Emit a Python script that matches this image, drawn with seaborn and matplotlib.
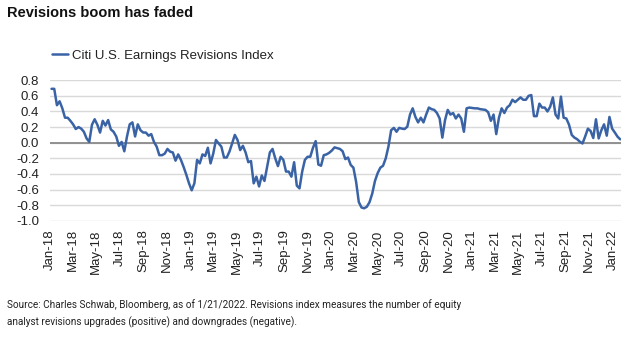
import matplotlib
matplotlib.use("Agg")
import matplotlib.pyplot as plt
from matplotlib.lines import Line2D
import seaborn as sns
import pandas as pd

# ---- data (weekly readings, Jan 2018 - Jan 21 2022) ----
start_date = "2018-01-05"
revisions = [
    0.69, 0.69, 0.48, 0.53, 0.44, 0.32, 0.32, 0.28, 0.235, 0.175,
    0.20, 0.18, 0.14, 0.055, 0.01, 0.23, 0.30, 0.23, 0.13, 0.28,
    0.22, 0.29, 0.17, 0.14, 0.08, -0.04, 0.01, -0.11, 0.08, 0.235,
    0.26, 0.08, 0.235, 0.16, 0.13, 0.13, 0.09, 0.11, 0.01, -0.05,
    -0.16, -0.16, -0.14, -0.08, -0.115, -0.125, -0.23, -0.15, -0.22, -0.31,
    -0.41, -0.52, -0.61, -0.52, -0.22, -0.265, -0.15, -0.17, -0.065, -0.265,
    -0.14, 0.035, -0.01, -0.05, -0.19, -0.19, -0.115, -0.01, 0.10, 0.035,
    -0.095, -0.04, -0.125, -0.25, -0.235, -0.52, -0.435, -0.56, -0.42, -0.49,
    -0.31, -0.125, -0.08, -0.20, -0.30, -0.18, -0.22, -0.37, -0.37, -0.435,
    -0.25, -0.55, -0.585, -0.37, -0.22, -0.18, -0.18, -0.065, 0.02, -0.28,
    -0.295, -0.16, -0.15, -0.13, -0.10, -0.06, -0.07, -0.08, -0.11, -0.21,
    -0.19, -0.285, -0.32, -0.50, -0.76, -0.83, -0.84, -0.82, -0.76, -0.65,
    -0.49, -0.39, -0.32, -0.295, -0.20, -0.05, 0.16, 0.19, 0.14, 0.19,
    0.18, 0.175, 0.205, 0.36, 0.44, 0.33, 0.26, 0.32, 0.26, 0.36,
    0.45, 0.43, 0.42, 0.38, 0.31, 0.065, 0.29, 0.42, 0.36, 0.38,
    0.31, 0.36, 0.31, 0.14, 0.44, 0.45, 0.445, 0.44, 0.44, 0.43,
    0.425, 0.42, 0.39, 0.28, 0.36, 0.11, 0.32, 0.44, 0.38, 0.45,
    0.48, 0.55, 0.52, 0.55, 0.58, 0.55, 0.55, 0.60, 0.61, 0.34,
    0.34, 0.50, 0.45, 0.45, 0.40, 0.46, 0.58, 0.36, 0.31, 0.59,
    0.32, 0.31, 0.23, 0.10, 0.065, 0.045, 0.013, -0.01, 0.08, 0.18,
    0.15, 0.06, 0.30, 0.055, 0.16, 0.235, 0.09, 0.33, 0.18, 0.13,
    0.077, 0.043,
]
series_name = "Citi U.S. Earnings Revisions Index"
title = "Revisions boom has faded"
source = ("Source: Charles Schwab, Bloomberg, as of 1/21/2022. Revisions index measures the number of equity\n"
          "analyst revisions upgrades (positive) and downgrades (negative).")
y_ticks = [0.8, 0.6, 0.4, 0.2, 0.0, -0.2, -0.4, -0.6, -0.8, -1.0]
x_tick_start, x_tick_end = "2018-01-01", "2022-01-01"

dates = pd.date_range(start_date, periods=len(revisions), freq="7D")
df = pd.DataFrame({"date": dates, "value": revisions})

sns.set_theme(style="white")
plt.rcParams["font.family"] = ["Liberation Sans", "DejaVu Sans"]

fig = plt.figure(figsize=(6.38, 3.47), dpi=100)
ax = fig.add_axes([50 / 638, 1 - 221 / 347, 571 / 638, 141 / 347])

line_color = "#3A63A6"
sns.lineplot(data=df, x="date", y="value", ax=ax, color=line_color, linewidth=1.8, zorder=3)

ax.set_ylim(-1.003, 0.803)
ax.set_xlim(pd.Timestamp("2018-01-01"), pd.Timestamp("2022-01-23"))
ax.set_yticks(y_ticks)
ax.set_yticklabels([f"{v:.1f}" for v in y_ticks], fontsize=9.5, color="#222222")
xt = pd.date_range(x_tick_start, x_tick_end, freq="2MS")
ax.set_xticks(xt)
ax.set_xticklabels([d.strftime("%b-%y") for d in xt], rotation=90, fontsize=9.5, color="#222222")
ax.tick_params(axis="both", length=0)
ax.tick_params(axis="y", pad=8)
ax.tick_params(axis="x", pad=6)
ax.set_xlabel("")
ax.set_ylabel("")
for s in ax.spines.values():
    s.set_visible(False)
ax.yaxis.grid(True, color="#d9d9d9", linewidth=1.0, zorder=1)
ax.xaxis.grid(False)
ax.axhline(0, color="#8a8a8a", linewidth=1.3, zorder=2)
if ax.get_legend() is not None:
    ax.get_legend().remove()

handle = Line2D([], [], color=line_color, linewidth=1.8)
fig.legend([handle], [series_name], loc="center left", bbox_to_anchor=(52 / 638, 1 - 56 / 347),
           frameon=False, fontsize=9.5, handlelength=1.2, handletextpad=0.35,
           borderpad=0, borderaxespad=0, labelcolor="#222222")

fig.text(7 / 638, 1 - 13 / 347, title, fontsize=10.5, fontweight="bold", va="center", ha="left", color="#111111")
fig.text(7 / 638, 1 - 299 / 347, source, fontsize=7.2, va="top", ha="left", color="#222222",
         family=["Liberation Sans Narrow", "Roboto", "DejaVu Sans"], linespacing=1.7)

fig.savefig("out.png", dpi=100, facecolor="white")
